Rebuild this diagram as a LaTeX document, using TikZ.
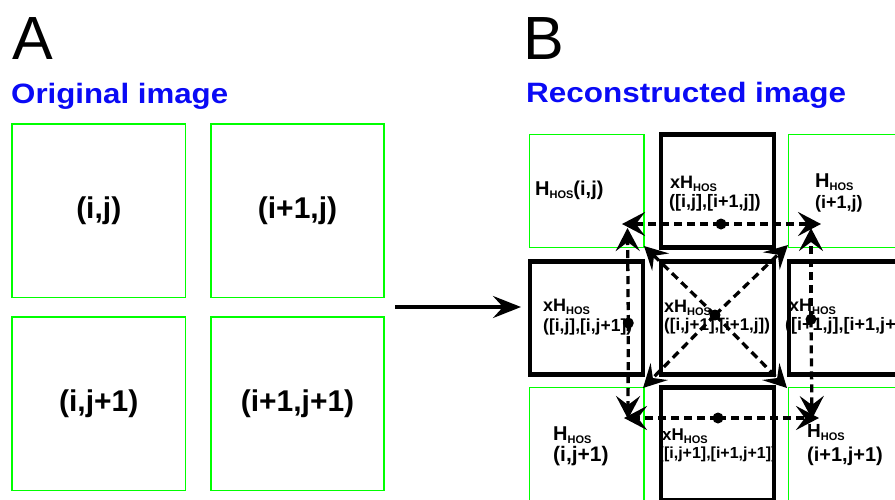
\documentclass[tikz,border=0pt]{standalone}
\usepackage{fontspec}
\setmainfont{Liberation Sans}
\usetikzlibrary{arrows.meta}
\definecolor{boxgreen}{RGB}{0,255,0}
\definecolor{titleblue}{RGB}{10,10,245}
% H with a lowered "HOS" subscript
\newcommand\hhos{H\raisebox{-3.5pt}{\fontsize{11}{11}\selectfont HOS}}
\newcommand\fs[1]{\fontsize{#1}{#1}\selectfont\bfseries}
\begin{document}
\begin{tikzpicture}[x=1pt,y=-1pt,
  gbox/.style={draw=boxgreen, line width=1.9pt, minimum width=173.5pt,
    minimum height=173.5pt, inner sep=0pt, font=\fs{30}},
  rgbox/.style={draw=boxgreen, line width=1.3pt, minimum width=114.5pt,
    minimum height=113.5pt, inner sep=0pt},
  kbox/.style={draw=black, line width=4.6pt, minimum width=113pt,
    minimum height=113pt, inner sep=0pt},
  lbl/.style={anchor=base west, inner sep=0pt},
  darrow/.style={line width=3.3pt, dash pattern=on 8pt off 5pt,
    -{Stealth[length=23pt,width=24pt,inset=9pt]}},
  dot/.style={circle, fill=black, inner sep=0pt, minimum size=11pt},
  panel/.style={anchor=base west, inner sep=0pt, font=\fontsize{61}{61}\selectfont},
  heading/.style={anchor=base west, inner sep=0pt, text=titleblue, font=\fs{28}}]
\useasboundingbox (0,0) rectangle (895,499);

% panel letters and headings
\node[panel] (pa) at (12,59) {A};
\node[panel] (pb) at (523.5,59) {B};
\node[heading] (ha) at (11,103) {\resizebox{217pt}{\height}{Original image}};
\node[heading] (hb) at (526,102) {\resizebox{320pt}{\height}{Reconstructed image}};

% original image: four pixels
\node[gbox] (o11) at (98.75,210.75) {(i,j)};
\node[gbox] (o21) at (297.5,210.75) {(i+1,j)};
\node[gbox] (o12) at (98.75,403.75) {(i,j+1)};
\node[gbox] (o22) at (297.5,403.75) {(i+1,j+1)};

% arrow between the panels
\coordinate (arrS) at (395,307);
\coordinate (arrE) at (521,307);
\draw[line width=3.6pt, -{Stealth[length=28pt,width=22pt,inset=10pt]}] (arrS) -- (arrE);

% reconstructed image: labels
\node[lbl, font=\fs{20}] (t11) at (535,195) {\hhos(i,j)};
\node[lbl, font=\fs{18}] (t12a) at (670,188) {x\hhos};
\node[lbl, font=\fs{18}] (t12b) at (669,207) {([i,j],[i+1,j])};
\node[lbl, font=\fs{20}] (t13a) at (815,187) {\hhos};
\node[lbl, font=\fs{18}] (t13b) at (815,208) {(i+1,j)};
\node[lbl, font=\fs{18}] (t21a) at (543,311) {x\hhos};
\node[lbl, font=\fs{17.5}] (t21b) at (543,331) {([i,j],[i,j+1])};
\node[lbl, font=\fs{18}] (t22a) at (664,312) {x\hhos};
\node[lbl, font=\fs{17}] (t22b) at (664,330) {([i,j+1],[i+1,j])};
\node[lbl, font=\fs{18}] (t23a) at (789,311) {x\hhos};
\node[lbl, font=\fs{18}] (t23b) at (785,330) {([i+1,j],[i+1,j+1])};
\node[lbl, font=\fs{20}] (t31a) at (553,440) {\hhos};
\node[lbl, font=\fs{21}] (t31b) at (553,461) {(i,j+1)};
\node[lbl, font=\fs{17}] (t32a) at (662,440) {x\hhos};
\node[lbl, font=\fs{16}] (t32b) at (658.5,458) {([i,j+1],[i+1,j+1])};
\node[lbl, font=\fs{19}] (t33a) at (807,437) {\hhos};
\node[lbl, font=\fs{20}] (t33b) at (807,461) {(i+1,j+1)};

% reconstructed image: pixel boxes (green) and cross-pixel boxes (black)
\node[rgbox] (r11) at (586.75,191) {};
\node[kbox]  (r12) at (717.3,191) {};
\node[rgbox] (r13) at (845.5,191) {};
\node[kbox]  (r21) at (586.5,317.7) {};
\node[kbox]  (r22) at (717.3,317.7) {};
\node[kbox]  (r23) at (845.5,317.7) {};
\node[rgbox] (r31) at (586.75,444) {};
\node[kbox]  (r32) at (717.3,444) {};
\node[rgbox] (r33) at (845.5,444) {};

% centres of the cross-pixel boxes
\node[dot] (dtop) at (721,224) {};
\node[dot] (dleft) at (628.3,323) {};
\node[dot] (dmid) at (715,315) {};
\node[dot] (dright) at (811,319.3) {};
\node[dot] (dbot) at (718,418) {};

% arrow ends
\coordinate (eTL) at (622,224);
\coordinate (eTR) at (821,224);
\coordinate (eLU) at (627.5,228);
\coordinate (eLD) at (628,419);
\coordinate (eRU) at (811,228);
\coordinate (eRD) at (812,419);
\coordinate (eBL) at (624,418);
\coordinate (eBR) at (819,418);
\coordinate (cTL) at (644,246);
\coordinate (cTR) at (788,245);
\coordinate (cBL) at (643,388);
\coordinate (cBR) at (787,388);

% dashed arrows
\draw[darrow] (dtop.center) -- (eTL);
\draw[darrow] (dtop.center) -- (eTR);
\draw[darrow] (dleft.center) -- (eLU);
\draw[darrow] (dleft.center) -- (eLD);
\draw[darrow] (dright.center) -- (eRU);
\draw[darrow] (dright.center) -- (eRD);
\draw[darrow] (dbot.center) -- (eBL);
\draw[darrow] (dbot.center) -- (eBR);
\draw[darrow] (dmid.center) -- (cTL);
\draw[darrow] (dmid.center) -- (cTR);
\draw[darrow] (dmid.center) -- (cBL);
\draw[darrow] (dmid.center) -- (cBR);
\end{tikzpicture}
\end{document}
